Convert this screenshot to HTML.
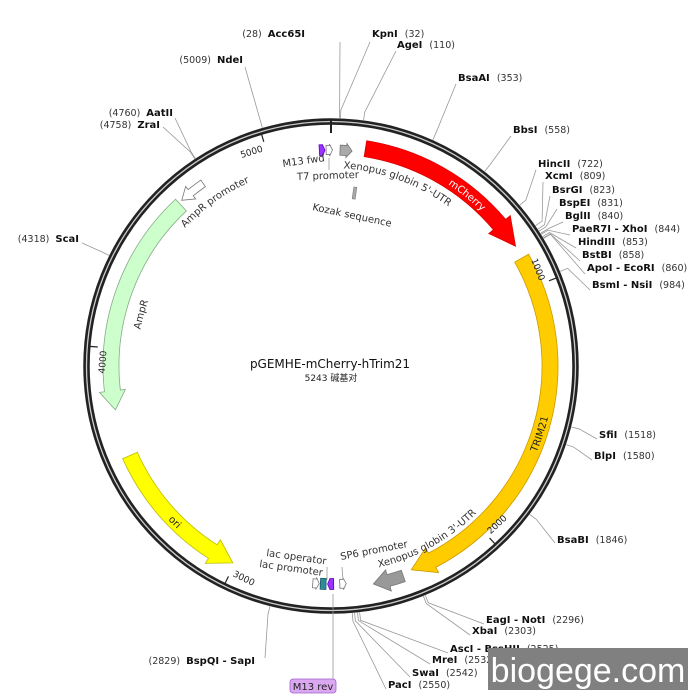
<!DOCTYPE html>
<html><head><meta charset="utf-8"><style>
html,body{margin:0;padding:0;background:#fff;}
svg{display:block;}
text{font-family:"DejaVu Sans","Liberation Sans","Noto Sans CJK SC",sans-serif;}
.n{font-weight:bold;font-size:10px;fill:#111;}
.p{font-size:9.5px;fill:#333;}
.f{font-size:10px;fill:#333;}
</style></head><body>
<svg id="s" width="700" height="700" viewBox="0 0 700 700" xmlns="http://www.w3.org/2000/svg">
<g id="lines" stroke="#999" stroke-width="0.8" fill="none"></g>
<circle cx="331" cy="366" r="244.5" fill="none" stroke="#222" stroke-width="6.5"/>
<circle cx="331" cy="366" r="244.5" fill="none" stroke="#ccc" stroke-width="1.3"/>
<g id="feat"></g>
<g id="ticks"></g>
<g id="lbl"></g>
<text x="330" y="368" text-anchor="middle" style="font-size:12px;fill:#111">pGEMHE-mCherry-hTrim21</text>
<text x="331" y="381" text-anchor="middle" style="font-size:9px;fill:#222;font-family:'DejaVu Sans','Noto Sans CJK SC',sans-serif">5243 碱基对</text>
<text x="283" y="167" class="f" transform="rotate(-8 283 167)">M13 fwd</text>
<text x="297" y="180" class="f" transform="rotate(-2 297 180)">T7 promoter</text>
<text x="312" y="210" class="f" transform="rotate(12 312 210)">Kozak sequence</text>
<rect x="353" y="187" width="3" height="12" fill="#aaa" stroke="#777" stroke-width="0.6" transform="rotate(8 354 193)"/>
<line x1="329" y1="158" x2="329" y2="170" stroke="#999" stroke-width="0.8"/>
<text x="266" y="556" class="f" transform="rotate(8 266 556)">lac operator</text>
<text x="259" y="567" class="f" transform="rotate(8 259 567)">lac promoter</text>
<text x="341" y="560" class="f" transform="rotate(-11 341 560)">SP6 promoter</text>
<line x1="327" y1="567" x2="327" y2="580" stroke="#999" stroke-width="0.8"/>
<line x1="342" y1="567" x2="343" y2="580" stroke="#999" stroke-width="0.8"/>
<line x1="333" y1="594" x2="333" y2="680" stroke="#999" stroke-width="0.8"/>
<rect x="290" y="679" width="46" height="14" rx="3" fill="#d9a8f0" stroke="#a060d0" stroke-width="0.8"/>
<text x="313" y="690" text-anchor="middle" style="font-size:10px;fill:#222">M13 rev</text>
<rect x="488" y="648" width="200" height="42" fill="#808080"/>
<text x="588" y="682" text-anchor="middle" style="font-size:34px;fill:#fff;font-family:'Liberation Sans',sans-serif">biogege.com</text>
</svg>
<script>
var cx=331,cy=366,NS="http://www.w3.org/2000/svg";
function P(a,r){var t=a*Math.PI/180;return (cx+r*Math.sin(t)).toFixed(2)+" "+(cy-r*Math.cos(t)).toFixed(2);}
function arc(a1,a2,r){var sw=a2>a1?1:0,lg=Math.abs(a2-a1)>180?1:0;return "A"+r+" "+r+" 0 "+lg+" "+sw+" "+P(a2,r);}
function el(t,at,par,txt){var e=document.createElementNS(NS,t);for(var k in at)e.setAttribute(k,at[k]);if(txt)e.textContent=txt;document.getElementById(par).appendChild(e);return e;}
function arrow(a1,a2,r,w,h,hw,fill,st){var dir=a2>a1?1:-1,ab=a2-dir*h;
var d="M"+P(a1,r+w/2)+arc(a1,ab,r+w/2)+"L"+P(ab,r+hw/2)+"L"+P(a2,r)+"L"+P(ab,r-hw/2)+"L"+P(ab,r-w/2)+arc(ab,a1,r-w/2)+"Z";
el("path",{d:d,fill:fill,stroke:st,"stroke-width":0.8},"feat");}
function box(a1,a2,r,w,fill,st){var d="M"+P(a1,r+w/2)+arc(a1,a2,r+w/2)+"L"+P(a2,r-w/2)+arc(a2,a1,r-w/2)+"Z";el("path",{d:d,fill:fill,stroke:st,"stroke-width":0.8},"feat");}
arrow(9,57,220,16,7,28,"#ff0000","#dd0000");
arrow(60.5,158.5,219,16,6,28,"#ffcc00","#cc9900");
arrow(161,169,222,12,4,22,"#999","#777");
arrow(246,206.5,220,16,6,28,"#ffff00","#bbbb00");
arrow(317,258.5,220,16,5,26,"#ccffcc","#88aa88");
arrow(325,318,223,8,3,16,"#fff","#777");
arrow(2.4,5.6,216,10,1.5,14,"#aaa","#777");
arrow(-3.1,-1.6,216,11,0.6,11,"#9933ff","#6600cc");
arrow(-1.3,0.4,216,9,0.8,12,"#fff","#777");
arrow(184.8,183.1,218,9,0.8,12,"#fff","#777");
box(181.3,182.8,218,11,"#2e8b9a","#1d5a66");
arrow(179.3,180.9,218,11,0.6,11,"#9933ff","#6600cc");
arrow(177.7,176.0,218,9,0.8,12,"#fff","#777");
el("line",{x1:331,y1:119,x2:331,y2:133,stroke:"#222","stroke-width":2},"ticks");
[1000,2000,3000,4000,5000].forEach(function(b){var a=b/5243*360;
var p1=P(a,242).split(" "),p2=P(a,234).split(" ");
el("line",{x1:p1[0],y1:p1[1],x2:p2[0],y2:p2[1],stroke:"#222","stroke-width":1.2},"ticks");
var rot=a>180?a-360:a,flip=false;if(rot>90){rot-=180;flip=true;}if(rot<-90){rot+=180;flip=true;}
var r=flip?232:225,q=P(a-0.8,r).split(" ");
el("text",{x:q[0],y:q[1],"text-anchor":flip?"start":"end",transform:"rotate("+rot.toFixed(1)+" "+q[0]+" "+q[1]+")",style:"font-size:9px;fill:#222"},"ticks",String(b));});
var defs=el("defs",{},"feat");
function tp(id,a1,a2,r,txt,style,off){var d="M"+P(a1,r)+arc(a1,a2,r);var p=document.createElementNS(NS,"path");p.setAttribute("id",id);p.setAttribute("d",d);defs.appendChild(p);
var t=el("text",{style:style},"feat");var s=document.createElementNS(NS,"textPath");s.setAttribute("href","#"+id);s.setAttribute("startOffset",off||"50%");s.setAttribute("text-anchor","middle");s.textContent=txt;t.appendChild(s);}
tp("t1",0,50,198,"Xenopus globin 5'-UTR","font-size:10px;fill:#333","40%");
tp("t2",10,56,216,"mCherry","font-size:10px;fill:#fff","62%");
tp("t3",158,60,223,"TRIM21","font-size:10px;fill:#222","51%");
tp("t4",244,206,224,"ori","font-size:10px;fill:#222","50%");
tp("t5",260,316,194,"AmpR","font-size:10px;fill:#333","45%");
tp("t6",300,345,201,"AmpR promoter","font-size:10px;fill:#333","55%");
tp("t7",172,130,207,"Xenopus globin 3'-UTR","font-size:10px;fill:#333","50%");
var E=[
[28,"Acc65I","(28)",340,42,"L",305,37],
[32,"KpnI","(32)",370,42,"R",372,37],
[110,"AgeI","(110)",396,51,"R",397,48],
[353,"BsaAI","(353)",456,84,"R",458,81],
[558,"BbsI","(558)",511,136,"R",513,133],
[722,"HincII","(722)",536,170,"R",538,167],
[809,"XcmI","(809)",543,182,"R",545,179],
[823,"BsrGI","(823)",550,196,"R",552,193],
[831,"BspEI","(831)",557,209,"R",559,206],
[840,"BglII","(840)",563,222,"R",565,219],
[844,"PaeR7I - XhoI","(844)",570,235,"R",572,232],
[853,"HindIII","(853)",576,248,"R",578,245],
[858,"BstBI","(858)",580,261,"R",582,258],
[860,"ApoI - EcoRI","(860)",585,274,"R",587,271],
[984,"BsmI - NsiI","(984)",590,290,"R",592,288],
[1518,"SfiI","(1518)",597,439,"R",599,438],
[1580,"BlpI","(1580)",592,460,"R",594,459],
[1846,"BsaBI","(1846)",555,543,"R",557,543],
[2296,"EagI - NotI","(2296)",484,624,"R",486,623],
[2303,"XbaI","(2303)",470,635,"R",472,634],
[2525,"AscI - BssHII","(2525)",448,653,"R",450,652],
[2532,"MreI","(2532)",430,664,"R",432,663],
[2542,"SwaI","(2542)",410,677,"R",412,676],
[2550,"PacI","(2550)",386,689,"R",388,688],
[2829,"BspQI - SapI","(2829)",265,658,"L",255,664],
[4318,"ScaI","(4318)",82,243,"L",79,242],
[4758,"ZraI","(4758)",163,127,"L",160,128],
[4760,"AatII","(4760)",175,118,"L",173,116],
[5009,"NdeI","(5009)",245,67,"L",243,63]];
E.forEach(function(e){var a=e[0]/5243*360,p1=P(a,248),p2=P(a,256);
el("polyline",{points:p1+" "+p2+" "+e[3]+" "+e[4]},"lines");
var t;
if(e[5]=="R"){t=el("text",{x:e[6],y:e[7]},"lbl");var s1=document.createElementNS(NS,"tspan");s1.setAttribute("class","n");s1.textContent=e[1];t.appendChild(s1);var s2=document.createElementNS(NS,"tspan");s2.setAttribute("class","p");s2.textContent="  "+e[2];s2.setAttribute("dx","4");t.appendChild(s2);}
else{t=el("text",{x:e[6],y:e[7],"text-anchor":"end"},"lbl");var s1=document.createElementNS(NS,"tspan");s1.setAttribute("class","p");s1.textContent=e[2];t.appendChild(s1);var s2=document.createElementNS(NS,"tspan");s2.setAttribute("class","n");s2.setAttribute("dx","6");s2.textContent=e[1];t.appendChild(s2);}
});
</script>
</body></html>
